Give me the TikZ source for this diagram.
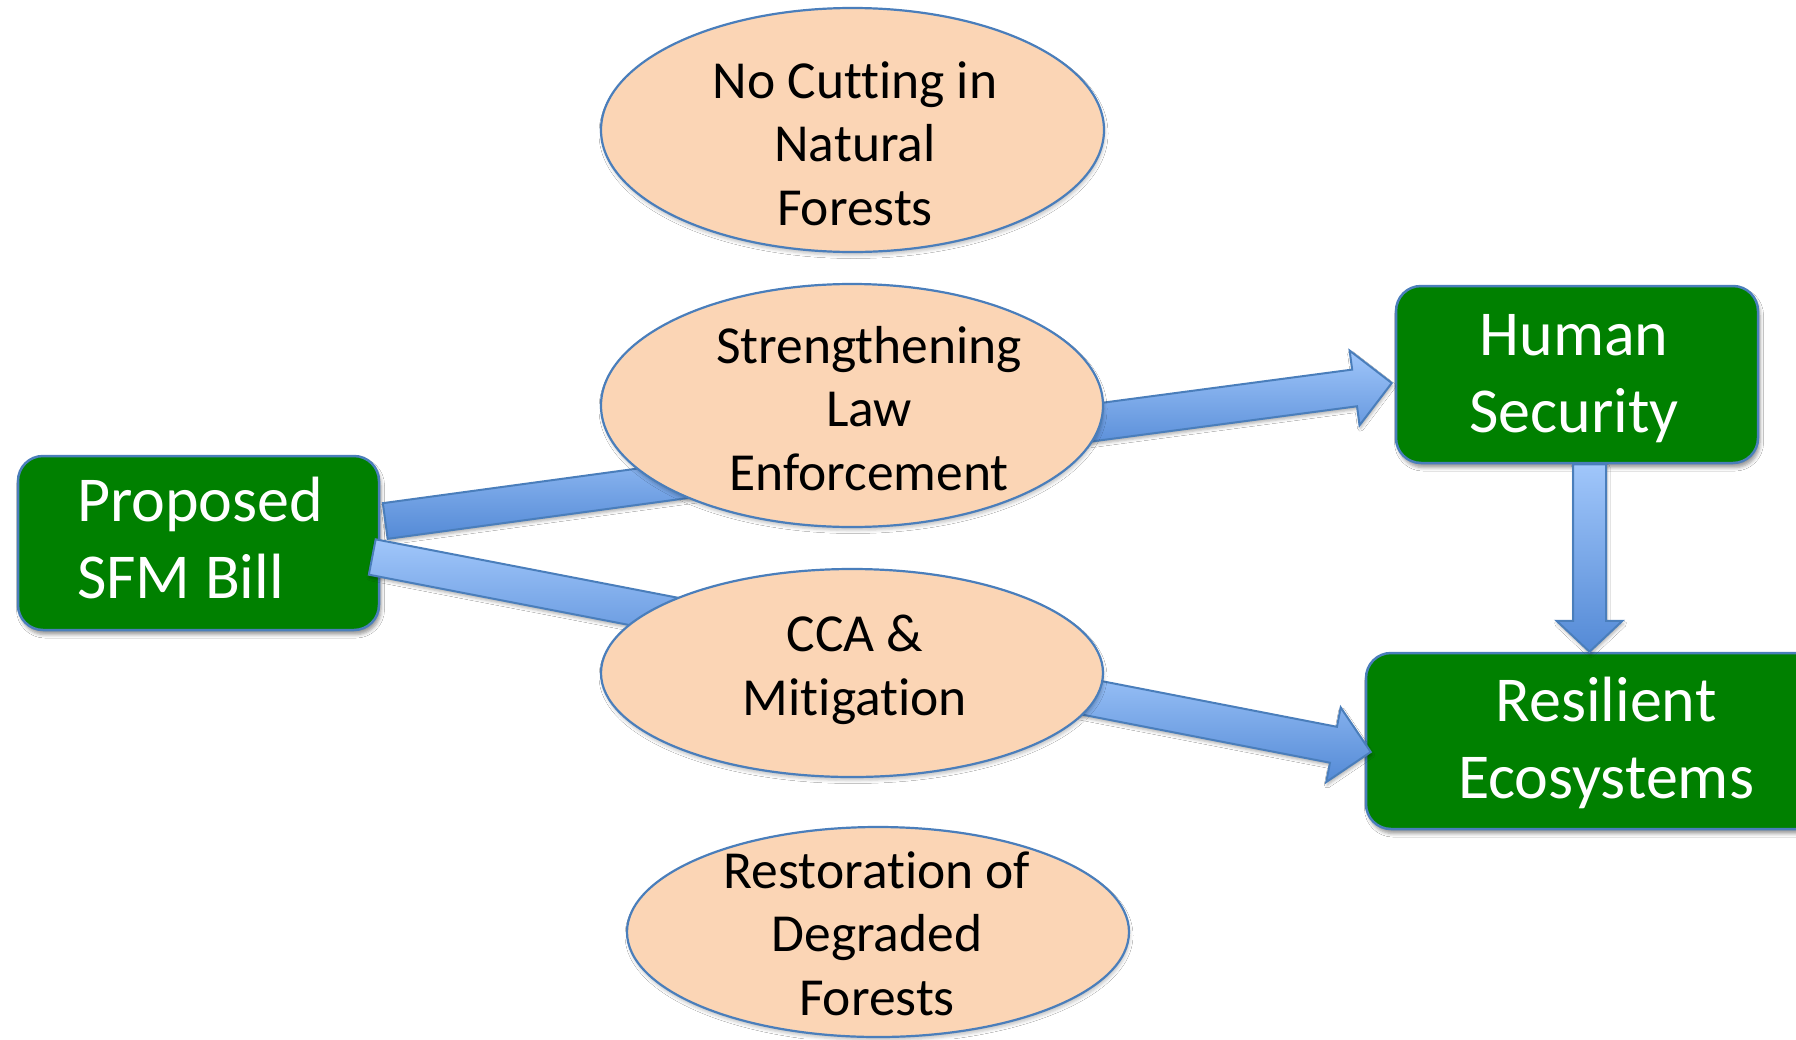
\documentclass[tikz,border=0pt]{standalone}
\usepackage{fontspec}
\setmainfont{Carlito}[Ligatures={NoCommon}]
\usetikzlibrary{calc,shapes.geometric,shadows.blur}

\definecolor{boxgreen}{RGB}{0,128,0}
\definecolor{edgeblue}{RGB}{74,126,187}
\definecolor{peach}{RGB}{251,213,181}
\definecolor{arrowlight}{RGB}{160,198,250}
\definecolor{arrowdark}{RGB}{84,138,214}

\tikzset{
  outcome/.style={draw=edgeblue, line width=2.5pt, fill=boxgreen,
    rounded corners=25pt, inner sep=0pt,
    blur shadow={shadow xshift=2pt, shadow yshift=-4.5pt,
      shadow blur radius=3.5pt, shadow opacity=40}},
  measure/.style={ellipse, draw=edgeblue, line width=2.2pt, fill=peach,
    inner sep=0pt,
    blur shadow={shadow xshift=1pt, shadow yshift=-3.5pt,
      shadow blur radius=3pt, shadow opacity=22}},
  boxtext/.style={text=white, font=\fontsize{64}{77}\selectfont,
    inner sep=0pt, anchor=base},
  ovaltext/.style={text=black, font=\fontsize{53.5}{63.5}\selectfont,
    align=center, inner sep=0pt, anchor=base},
  blockarrow/.style={draw=edgeblue, line width=2pt, line join=miter,
    top color=arrowlight, bottom color=arrowdark,
    blur shadow={shadow xshift=1pt, shadow yshift=-3pt,
      shadow blur radius=3pt, shadow opacity=30}},
}

% block arrow: start, tip, shaft half width, head half width, head length
\newcommand\blockarrow[5]{%
  \coordinate (ba) at ($(#2)!#5!(#1)$);
  \path[blockarrow]
    ($(#1)!#3!90:(#2)$) -- ($(ba)!#3!90:(#2)$) -- ($(ba)!#4!90:(#2)$)
    -- (#2) -- ($(ba)!#4!-90:(#2)$) -- ($(ba)!#3!-90:(#2)$)
    -- ($(#1)!#3!-90:(#2)$) -- cycle;
}

\begin{document}
\begin{tikzpicture}[x=1pt, y=-1pt]
  \useasboundingbox (0,0) rectangle (1796,1039);
  \fill[white] (0,0) rectangle (1796,1039);

  % outcome boxes
  \node[outcome, minimum width=361pt, minimum height=174pt] (prop) at (198.5,543) {};
  \node[outcome, minimum width=362pt, minimum height=177pt] (hum) at (1577,374.5) {};
  \node[outcome, minimum width=480pt, minimum height=176pt] (res) at (1606,741) {};

  % centres of the measure ovals
  \coordinate (nocutc) at (852.5,130);
  \coordinate (strc) at (852,405.5);
  \coordinate (ccac) at (852,673);
  \coordinate (restc) at (878,932);

  % connectors (they pass under the ovals)
  \coordinate (s1) at ($(prop.east)+(5,-22)$);
  \coordinate (e1) at ($(strc)+(-40,57.5)$);
  \coordinate (s2) at ($(prop.east)+(-8,14)$);
  \coordinate (e2) at ($(ccac)+(-40,-31)$);
  \coordinate (s3) at ($(strc)+(148,29.5)$);
  \coordinate (e3) at ($(hum.west)+(-3,8.5)$);
  \coordinate (s4) at ($(ccac)+(148,7)$);
  \coordinate (e4) at ($(res.west)+(6,11)$);
  \coordinate (s5) at ($(hum.south)+(12.5,0)$);
  \coordinate (e5) at (s5 |- res.north);

  \blockarrow{s1}{e1}{18pt}{37pt}{38pt}
  \blockarrow{s2}{e2}{18pt}{37pt}{38pt}
  \blockarrow{s3}{e3}{18.5pt}{37.7pt}{37.5pt}
  \blockarrow{s4}{e4}{18.3pt}{38pt}{38pt}
  \blockarrow{s5}{e5}{16.5pt}{33pt}{31pt}

  % measures
  \node[measure, minimum width=503pt, minimum height=244pt] (nocut) at (nocutc) {};
  \node[measure, minimum width=502pt, minimum height=243pt] (str) at (strc) {};
  \node[measure, minimum width=502pt, minimum height=208pt] (cca) at (ccac) {};
  \node[measure, minimum width=502pt, minimum height=210pt] (rest) at (restc) {};

  % labels (anchored on the baseline of their last line)
  \node[boxtext, anchor=base west, align=left] (propl) at (77,598) {Proposed\\SFM Bill};
  \node[boxtext, align=center] (huml) at (1574,432) {Human\\Security};
  \node[boxtext, align=center] (resl) at (1606,798) {Resilient\\Ecosystems};

  \node[ovaltext] (nocutl) at (855,225) {No Cutting in\\Natural\\Forests};
  \node[ovaltext] (strl) at (869,490) {Strengthening\\Law\\Enforcement};
  \node[ovaltext] (ccal) at (855,715) {CCA \&\\Mitigation};
  \node[ovaltext] (restl) at (877,1015) {Restoration of\\Degraded\\Forests};
\end{tikzpicture}
\end{document}
